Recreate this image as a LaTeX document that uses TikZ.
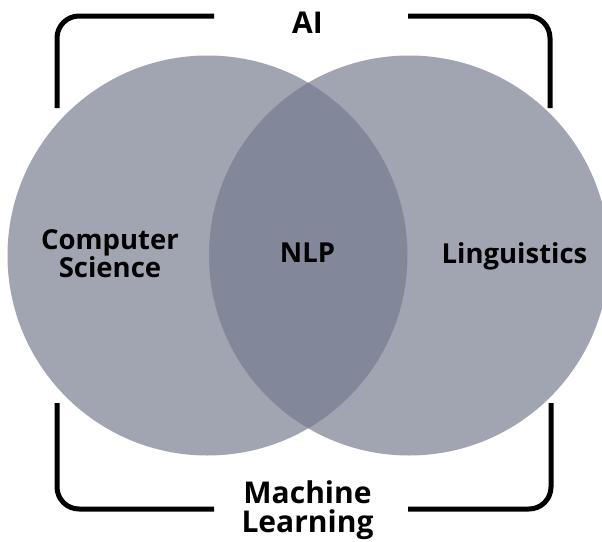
\documentclass[tikz,border=0pt]{standalone}
\usepackage{fontspec}
\setmainfont{Open Sans}
\usepackage{xcolor}
\usepackage{tikz}
\usetikzlibrary{positioning, calc}
\definecolor{vennfill}{RGB}{116,122,142}

\begin{document}
\begin{tikzpicture}[x=1pt, y=-1pt,
		every node/.style={inner sep=0pt, font=\bfseries},
		set/.style={fill=vennfill, fill opacity=0.68},
		inner/.style={font=\fontsize{27.5}{26}\selectfont\bfseries, anchor=base, align=center},
		outer/.style={font=\fontsize{30}{29}\selectfont\bfseries, anchor=base, align=center},
		bracket/.style={line width=5pt, rounded corners=22pt}]
			\useasboundingbox (0,0) rectangle (602,541);
			\clip (0,0) rectangle (602,541);
			
			\fill[set] (207.5,255.5) circle (200);
			\fill[set] (409,255.5) circle (200);
			
			\node[outer](ai) at (307.5,33) {AI};
			\node[outer](ml) at (307.5,532) {Machine\\Learning};
			\node[inner](cs) at (110,277.5) {Computer\\Science};
			\node[inner](nlp) at (307.5,262) {NLP};
			\node[inner](ling) at (514.5,263) {Linguistics};
			
			%%			the four corner brackets
			\draw[bracket] (214,16) -- (57,16) -- (57,108);
			\draw[bracket] (408,16) -- (550,16) -- (550,108);
			\draw[bracket] (57,403) -- (57,509) -- (214,509);
			\draw[bracket] (551,403) -- (551,509) -- (408,509);
			
			\end{tikzpicture}
\end{document}
